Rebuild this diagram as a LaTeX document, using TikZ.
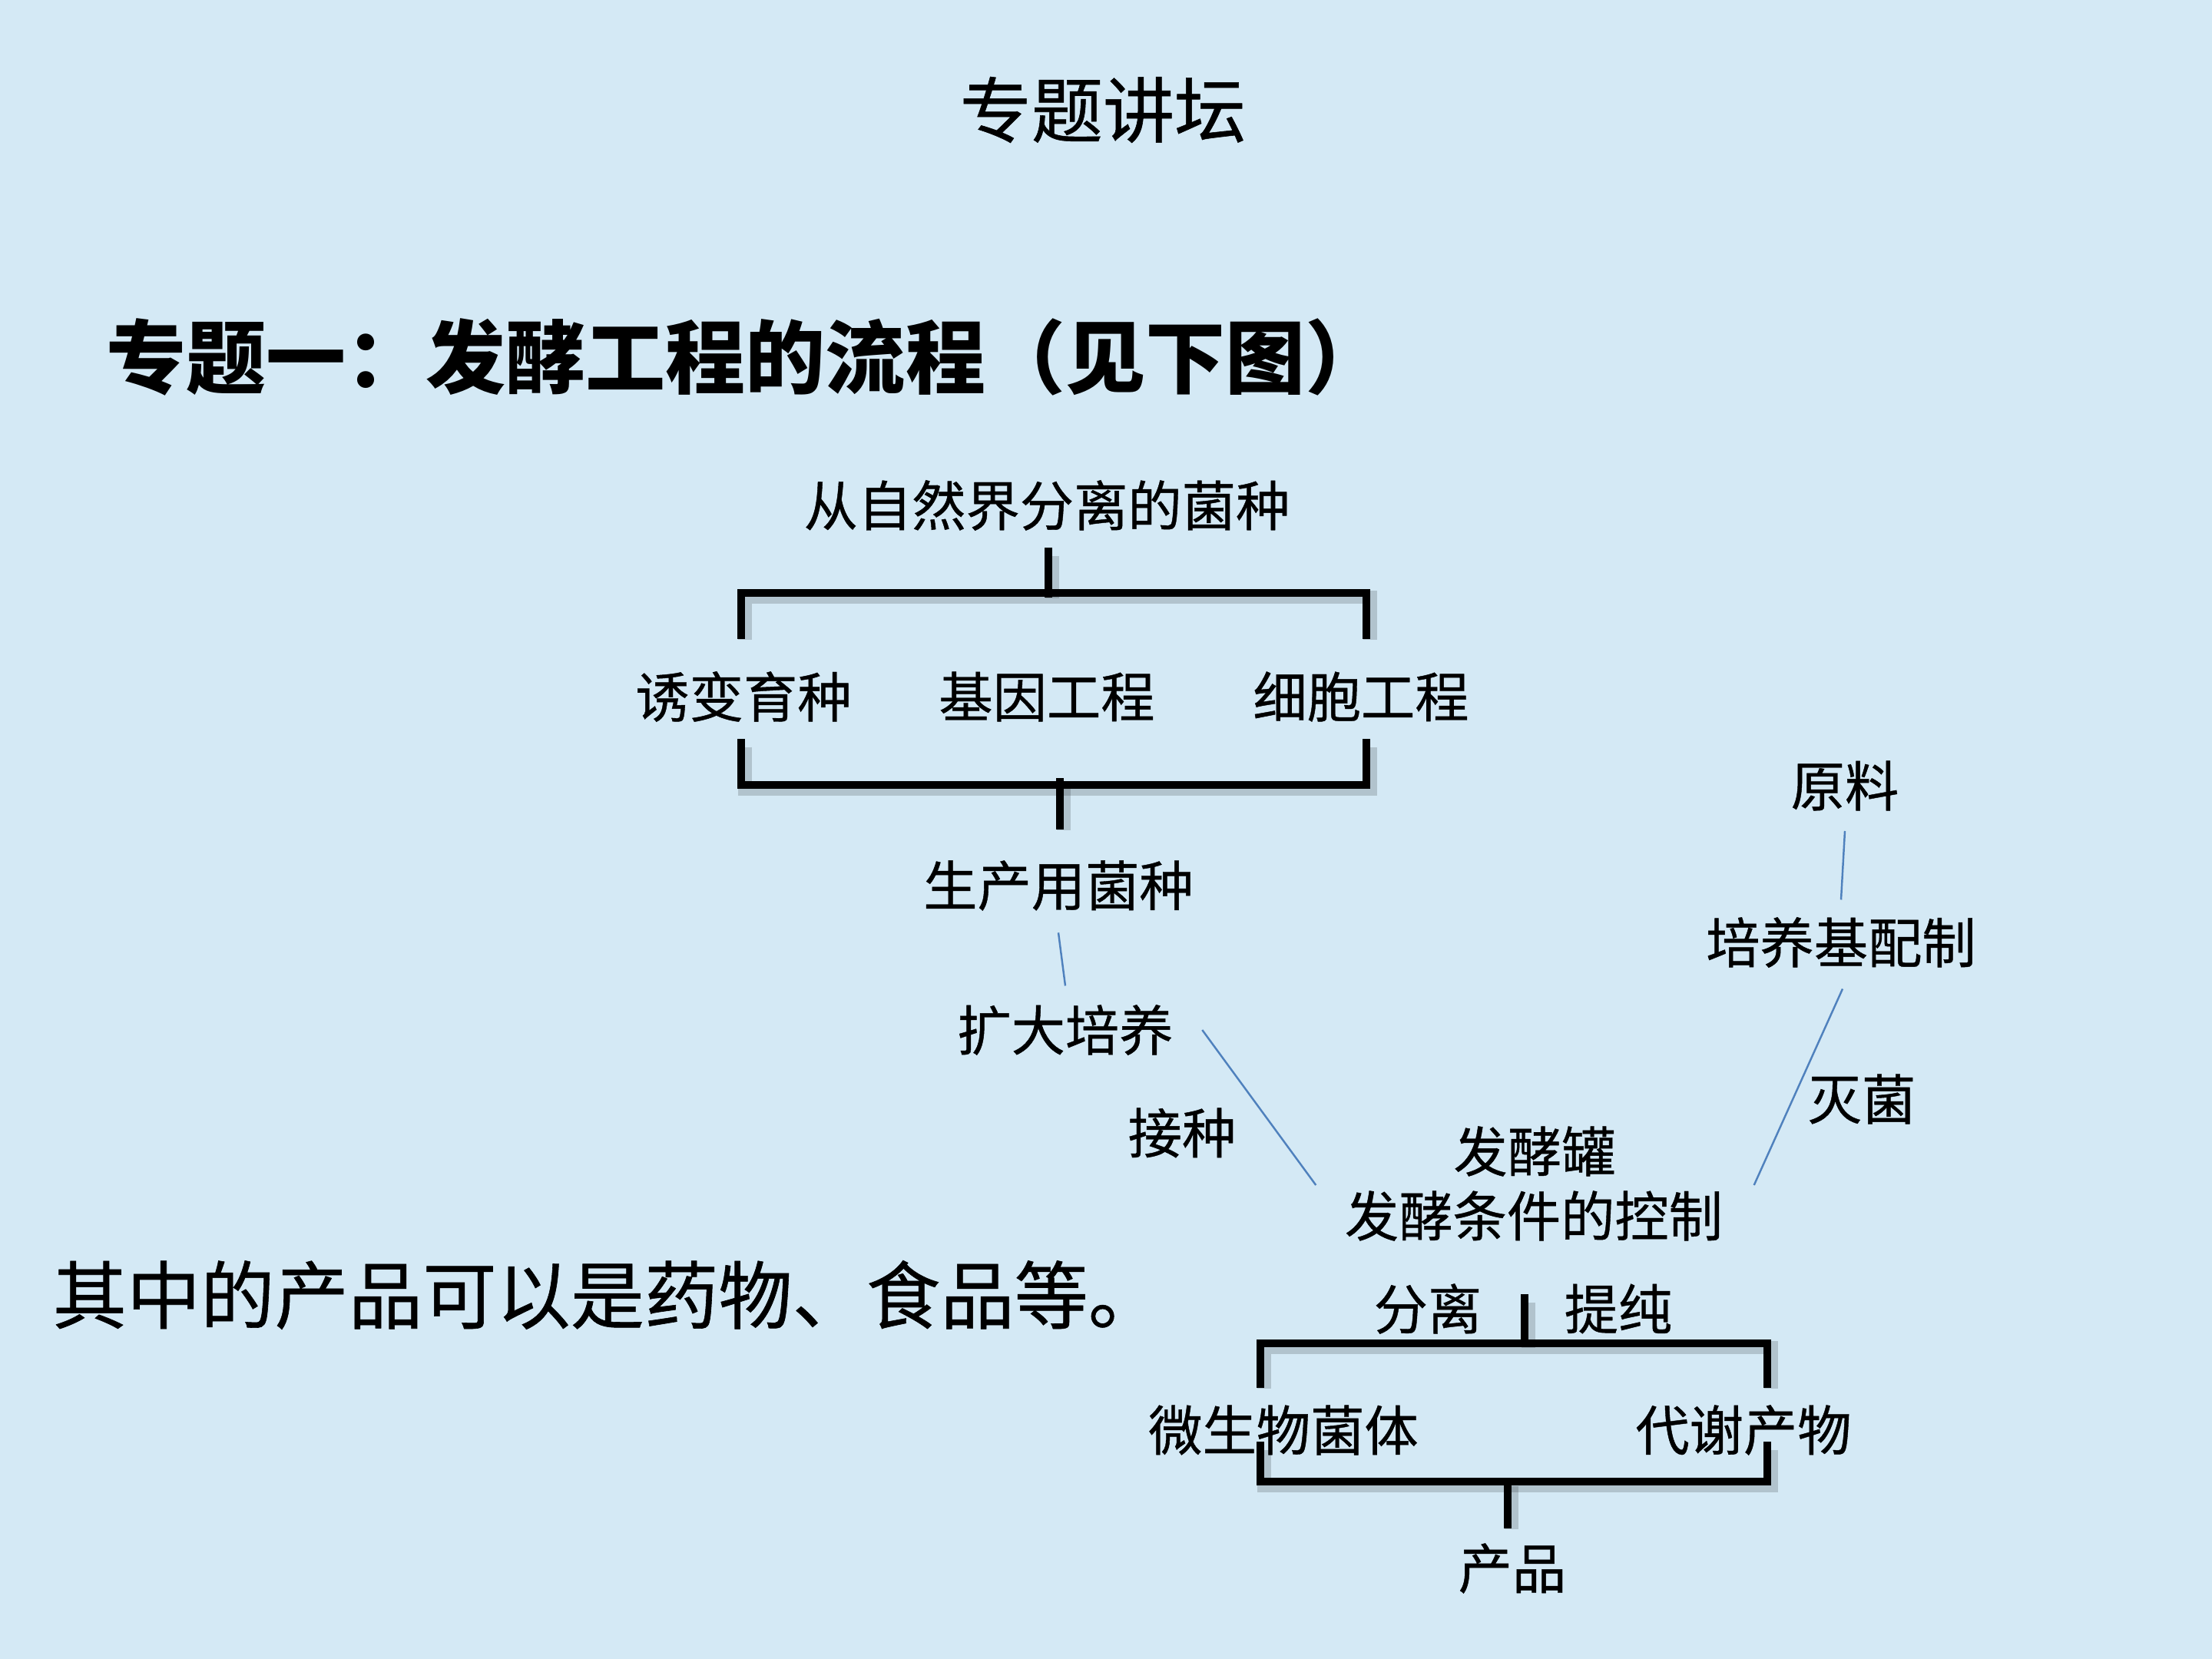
\documentclass[tikz,border=0pt]{standalone}
\usepackage{fontspec}
\setmainfont{Noto Sans CJK SC}
\newfontfamily\heavycjk[FakeBold=0.6]{Noto Sans CJK SC}
\usepackage{tikz}
\usetikzlibrary{positioning, calc}
\definecolor{slidebg}{RGB}{212,233,245}
\definecolor{linkblue}{RGB}{79,129,189}

\begin{document}
\begin{tikzpicture}[
    lbl/.style={inner sep=0pt, font=\heavycjk\fontsize{20}{24}\selectfont},
    big/.style={inner sep=0pt, font=\heavycjk\fontsize{27.4}{31}\selectfont},
    bar/.style={line width=2.6pt, line cap=rect, line join=miter,
        preaction={draw=black, opacity=0.16, line width=5pt,
            transform canvas={xshift=1.4pt, yshift=-1.6pt}}},
    link/.style={draw=linkblue, line width=0.7pt},
]
% Slide background
\fill[slidebg] (0,0) rectangle (28.8,-21.6);

% Headings
\node[inner sep=0pt, font=\heavycjk\fontsize{26.5}{30}\selectfont] (title) at (14.36,-1.43) {专题讲坛};
\node[inner sep=0pt, anchor=west, font=\fontsize{29.6}{33}\selectfont\bfseries] (head) at (1.38,-4.65) {专题一：发酵工程的流程（见下图）};
\node[big, anchor=west] (note) at (0.68,-16.86) {其中的产品可以是药物、食品等。};

% Strain selection
\node[lbl] (src)  at (13.63,-6.58) {从自然界分离的菌种};
\node[lbl] (mut)  at (9.68,-9.07) {诱变育种};
\node[lbl] (gene) at (13.63,-9.07) {基因工程};
\node[lbl] (cell) at (17.72,-9.07) {细胞工程};
\node[lbl] (prod) at (13.78,-11.53) {生产用菌种};
\node[lbl] (scale) at (13.87,-13.41) {扩大培养};
\node[lbl] (inoc) at (15.39,-14.75) {接种};

% Medium side
\node[lbl] (raw)    at (24.02,-10.23) {原料};
\node[lbl] (medium) at (23.97,-12.27) {培养基配制};
\node[lbl] (steri)  at (24.24,-14.31) {灭菌};

% Fermenter
\node[lbl] (tank) at (19.98,-14.99) {发酵罐};
\node[lbl] (ctrl) at (19.97,-15.83) {发酵条件的控制};

% Downstream
\node[lbl] (sep)   at (18.59,-17.04) {分离};
\node[lbl] (pur)   at (21.07,-17.04) {提纯};
\node[lbl] (cells) at (16.71,-18.62) {微生物菌体};
\node[lbl] (meta)  at (22.70,-18.62) {代谢产物};
\node[lbl] (final) at (19.69,-20.42) {产品};

% Bracket end points
\coordinate (topS) at (13.65,-7.18);
\coordinate (topL) at (9.65,-8.27);
\coordinate (topR) at (17.79,-8.27);
\coordinate (botL) at (9.65,-9.67);
\coordinate (botR) at (17.79,-9.67);
\coordinate (botS) at (13.80,-10.75);
\coordinate (dsS)  at (19.85,-16.90);
\coordinate (dsL)  at (16.41,-18.02);
\coordinate (dsR)  at (23.01,-18.02);
\coordinate (upL)  at (16.41,-18.82);
\coordinate (upR)  at (23.01,-18.82);
\coordinate (finS) at (19.63,-19.85);

% Brackets
\draw[bar] (topL) -- ++(0,0.55) -| (topR);
\draw[bar] (topS) -- ++(0,-0.55);
\draw[bar] (botL) |- ($(botL)!0.5!(botR)+(0,-0.55)$) -| (botR);
\draw[bar] (botS) -- ++(0,0.57);
\draw[bar] (dsL) -- ++(0,0.53) -| (dsR);
\draw[bar] (dsS) -- ++(0,-0.59);
\draw[bar] (upL) |- ($(upL)!0.5!(upR)+(0,-0.47)$) -| (upR);
\draw[bar] (finS) -- ++(0,0.56);

% Thin links
\draw[link] ([yshift=-0.28cm]prod.south) -- ([yshift=0.24cm]scale.north);
\draw[link] ([xshift=0.37cm]scale.east) -- ([xshift=-0.37cm,yshift=0.40cm]ctrl.west);
\draw[link] ([yshift=-0.26cm]raw.south) -- ([yshift=0.22cm]medium.north);
\draw[link] ([xshift=0.02cm,yshift=-0.27cm]medium.south) -- ([xshift=0.40cm,yshift=0.40cm]ctrl.east);
\end{tikzpicture}
\end{document}
